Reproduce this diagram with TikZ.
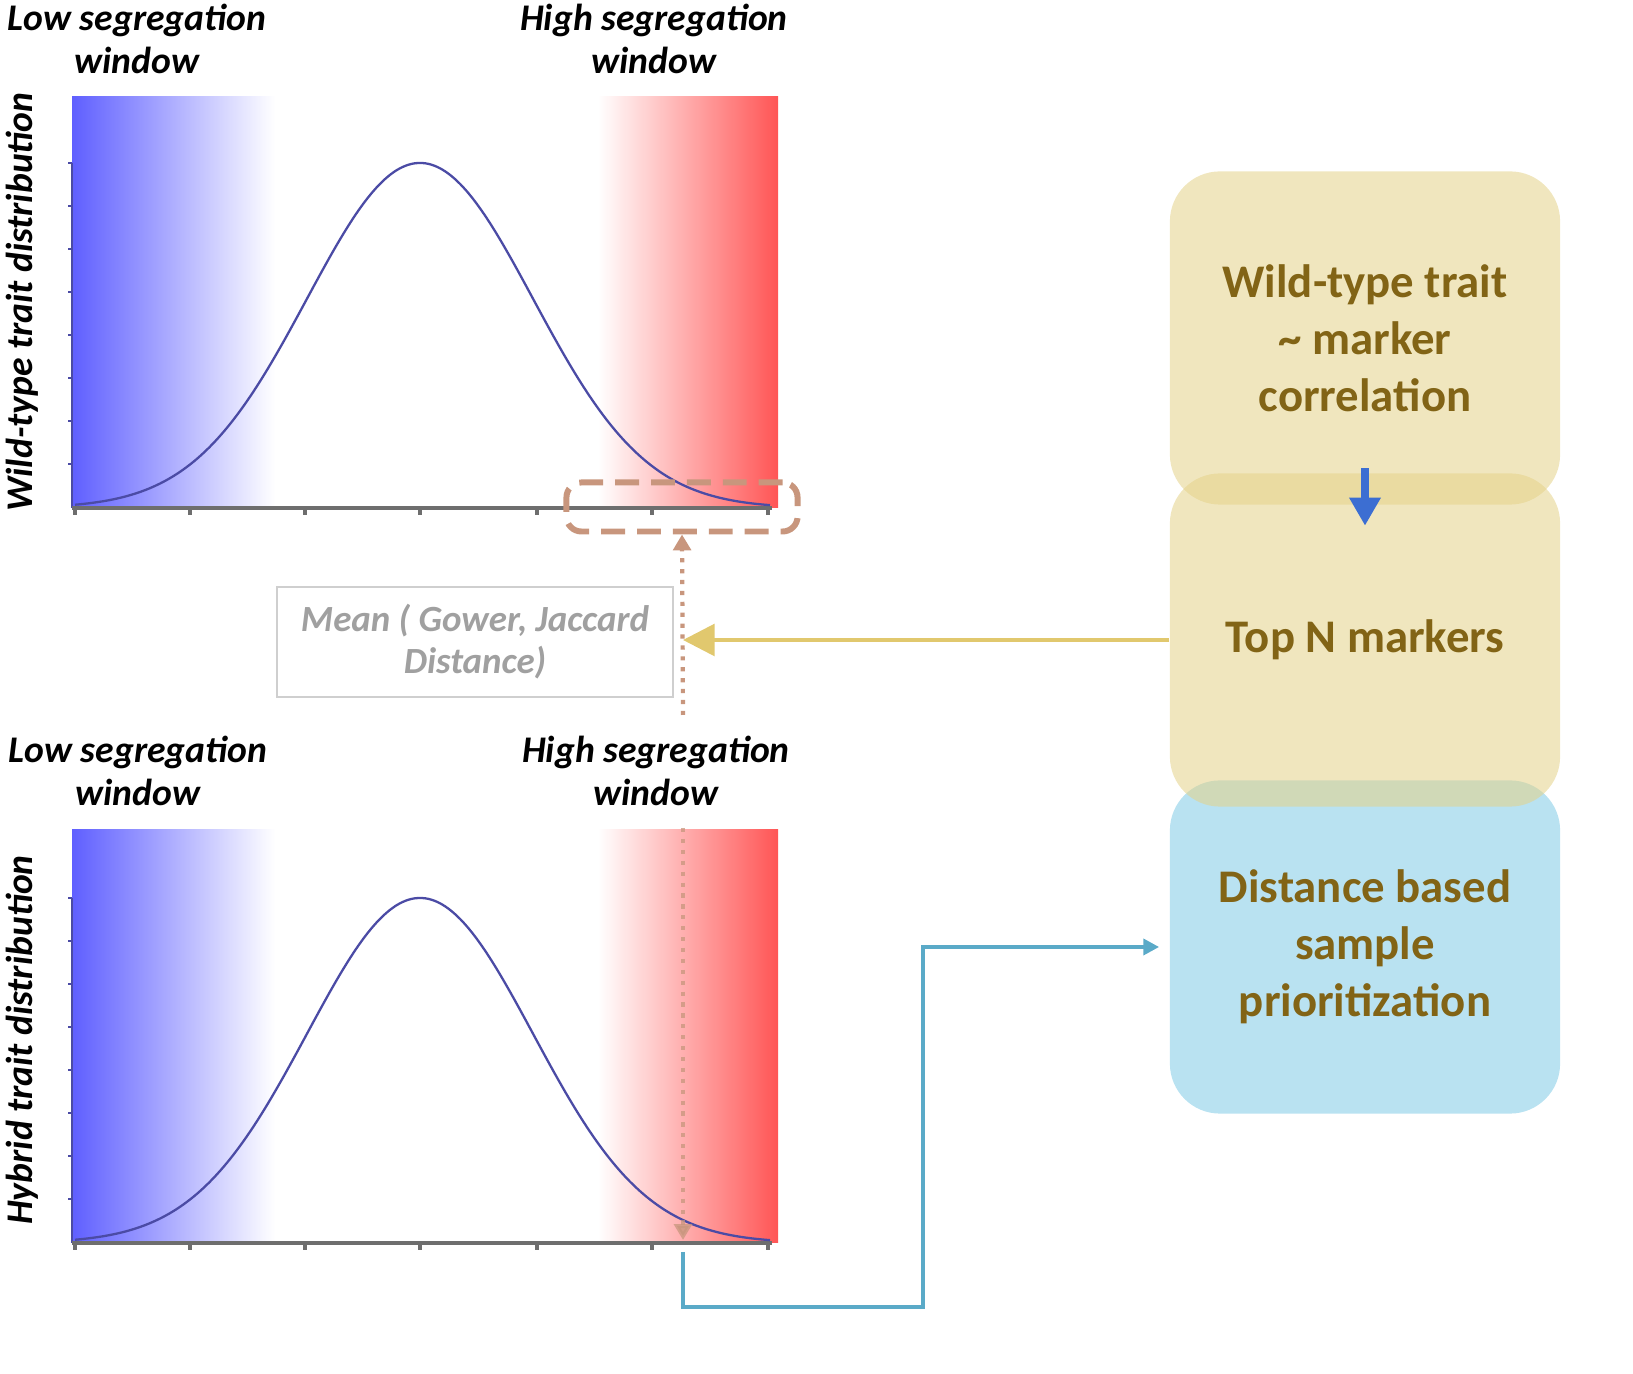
\documentclass[tikz,border=0pt]{standalone}
\usepackage{fontspec}
\setmainfont{Carlito}
\usetikzlibrary{arrows.meta,positioning}

\definecolor{winblue}{RGB}{95,95,255}
\definecolor{winred}{RGB}{255,85,85}
\definecolor{curveblue}{RGB}{75,75,165}
\definecolor{axisgray}{RGB}{110,110,110}
\definecolor{dashbrown}{RGB}{200,150,125}
\definecolor{meangray}{RGB}{160,160,160}
\definecolor{goldfill}{RGB}{228,210,137}
\definecolor{bluefill}{RGB}{185,226,241}
\definecolor{boxtext}{RGB}{130,100,22}
\definecolor{goldline}{RGB}{225,200,110}
\definecolor{tealline}{RGB}{90,170,200}
\definecolor{downblue}{RGB}{60,110,210}

\tikzset{
  seglabel/.style={font=\bfseries\itshape\fontsize{10.7}{12}\selectfont, align=center},
  axislabel/.style={font=\bfseries\itshape\fontsize{10.7}{12}\selectfont, rotate=90},
  yaxis/.style={color=curveblue, line width=0.4pt},
  xaxis/.style={color=axisgray, line width=1pt},
  curve/.style={color=curveblue, line width=0.65pt},
  stepbox/.style={rounded corners=0.5cm, minimum width=3.9cm, minimum height=3.33cm,
    align=center, text=boxtext, text opacity=1,
    font=\bfseries\fontsize{13.3}{16.2}\selectfont},
  winbox/.style={draw=dashbrown, line width=1.7pt, dash pattern=on 6.8pt off 3.4pt,
    rounded corners=0.15cm, minimum width=2.31cm, minimum height=0.49cm, inner sep=0pt},
  dotarrow/.style={color=dashbrown, line width=1.2pt, dash pattern=on 1.2pt off 1.9pt,
    -{Triangle[width=5pt,length=4.5pt]}},
  goldarrow/.style={color=goldline, line width=1.1pt, -{Triangle[width=9pt,length=9pt]}},
  tealarrow/.style={color=tealline, line width=1.35pt, shorten >=0.1cm, -{Triangle[width=4.5pt,length=4.5pt]}},
  downarrow/.style={color=downblue, line width=2.2pt, -{Triangle[width=8.5pt,length=8pt]}}
}

\begin{document}
\begin{tikzpicture}[x=0.01cm, y=-0.01cm]
\useasboundingbox (0,0) rectangle (1633,1374);
% wild-type chart
\shade[left color=winblue, right color=white] (72,97) rectangle (275,508);
\shade[left color=white, right color=winred] (598,97) rectangle (778,508);
\draw[yaxis] (72,163) -- (72,508);
\draw[yaxis] (72,163) -- ++(-4,0) (72,206) -- ++(-4,0) (72,249) -- ++(-4,0) (72,292) -- ++(-4,0)
  (72,335) -- ++(-4,0) (72,378) -- ++(-4,0) (72,421) -- ++(-4,0) (72,464) -- ++(-4,0);
\draw[xaxis] (72,508) -- (772,508);
\draw[xaxis] (75,508) -- ++(0,7) (190,508) -- ++(0,7) (305,508) -- ++(0,7) (420,508) -- ++(0,7)
  (537,508) -- ++(0,7) (652,508) -- ++(0,7) (768,508) -- ++(0,7);
\draw[curve] plot[domain=75:770, samples=120, smooth] (\x, {508-345*exp(-0.5*((\x-420)/113)^2)});
\node[seglabel] (lowA) at (137,39) {Low segregation\\window};
\node[seglabel] (highA) at (654,39) {High segregation\\window};
\node[axislabel] (ylabA) at (22,302) {Wild-type trait distribution};
\node[winbox] (winA) at (682,507) {};

% hybrid chart
\shade[left color=winblue, right color=white] (72,830) rectangle (275,1243);
\shade[left color=white, right color=winred] (598,830) rectangle (778,1243);
\draw[yaxis] (72,898) -- (72,1243);
\draw[yaxis] (72,898) -- ++(-4,0) (72,941) -- ++(-4,0) (72,984) -- ++(-4,0) (72,1027) -- ++(-4,0)
  (72,1070) -- ++(-4,0) (72,1113) -- ++(-4,0) (72,1156) -- ++(-4,0) (72,1199) -- ++(-4,0);
\draw[xaxis] (72,1243) -- (772,1243);
\draw[xaxis] (75,1243) -- ++(0,7) (190,1243) -- ++(0,7) (305,1243) -- ++(0,7) (420,1243) -- ++(0,7)
  (537,1243) -- ++(0,7) (652,1243) -- ++(0,7) (768,1243) -- ++(0,7);
\draw[curve] plot[domain=75:770, samples=120, smooth] (\x, {1243-345*exp(-0.5*((\x-420)/113)^2)});
\node[seglabel] (lowB) at (138,771) {Low segregation\\window};
\node[seglabel] (highB) at (656,771) {High segregation\\window};
\node[axislabel] (ylabB) at (22,1040) {Hybrid trait distribution};

% distance box and dotted guides
\node[draw=meangray!50, line width=0.4pt, minimum width=3.96cm, minimum height=1.1cm,
  text=meangray, align=center, font=\bfseries\itshape\fontsize{10.5}{12}\selectfont]
  (meanbox) at (475,642) {Mean ( Gower, Jaccard\\Distance)};
\coordinate (dotfoot) at (683,715);
\coordinate (hybtop) at (683,828);
\coordinate (hybpt) at (683,1240);
\coordinate (hybfoot) at (683,1252);
\coordinate (bendpt) at (923,1307);
\draw[dotarrow] (dotfoot) -- (winA.south);
\draw[dotarrow, opacity=0.75] (hybtop) -- (hybpt);

% pipeline boxes, the blue one lies under the gold ones
\node[stepbox, fill=bluefill] (distbox) at (1365,947) {Distance based\\sample\\prioritization};
\node[stepbox, fill=goldfill, fill opacity=0.55] (wildbox) at (1365,338) {Wild-type trait\\\textasciitilde{} marker\\correlation};
\node[stepbox, fill=goldfill, fill opacity=0.55] (topbox) at (1365,640) {Top N markers};
\draw[downarrow] ([yshift=0.37cm]wildbox.south) -- ([yshift=-0.53cm]topbox.north);
\draw[goldarrow] (topbox.west) -- (topbox.west -| dotfoot);
\draw[tealarrow] (hybfoot) |- (bendpt) |- (distbox.west);
\end{tikzpicture}
\end{document}
